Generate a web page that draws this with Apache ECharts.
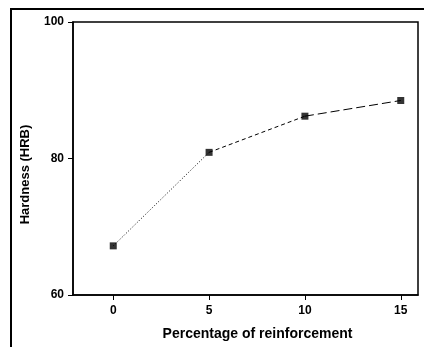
<!DOCTYPE html>
<html>
<head>
<meta charset="utf-8">
<script src="https://cdn.jsdelivr.net/npm/echarts@6/dist/echarts.min.js"></script>
<style>
  html, body { margin: 0; padding: 0; background: #fff; }
  #chart { width: 424px; height: 347px; }
</style>
</head>
<body>
<div id="chart"></div>
<script>
// reinforcement percentages and measured hardness
var reinforcement = [0, 5, 10, 15];
var hardness = [67.2, 80.9, 86.2, 88.5];
var xTicks = [0, 5, 10, 15];
var yTicks = [60, 80, 100];
// each segment has its own dash style in the original
var segmentDash = [[1, 2], [4, 3], [9, 4]];

var chart = echarts.init(document.getElementById('chart'));

var series = [];
for (var i = 0; i < reinforcement.length - 1; i++) {
  series.push({
    type: 'line',
    data: [[reinforcement[i], hardness[i]], [reinforcement[i + 1], hardness[i + 1]]],
    showSymbol: false,
    lineStyle: { color: '#000', width: 1, type: segmentDash[i] },
    silent: true
  });
}
series.push({
  type: 'scatter',
  data: reinforcement.map(function(x, i) { return [x, hardness[i]]; }),
  symbol: 'rect',
  symbolSize: 7,
  itemStyle: { color: '#000' }
});

var labelFont = { color: '#000', fontFamily: 'Liberation Sans', fontWeight: 'bold', fontSize: 12 };

chart.setOption({
  animation: false,
  backgroundColor: '#fff',
  grid: { left: 73, top: 22, right: 6, bottom: 52, show: true, borderColor: '#000', borderWidth: 1.5 },
  xAxis: {
    type: 'value',
    min: -2.1,
    max: 15.9,
    interval: 5,
    name: 'Percentage of reinforcement',
    nameLocation: 'middle',
    nameGap: 32,
    nameTextStyle: Object.assign({}, labelFont, { fontSize: 14, padding: [0, 0, 0, 24] }),
    axisLine: { show: true, onZero: false, lineStyle: { color: '#000', width: 1.5 } },
    axisTick: { show: true, length: 5, lineStyle: { color: '#000' }, customValues: xTicks },
    axisLabel: Object.assign({}, labelFont, { margin: 10, customValues: xTicks }),
    splitLine: { show: false }
  },
  yAxis: {
    type: 'value',
    min: 60,
    max: 100,
    interval: 20,
    name: 'Hardness (HRB)',
    nameLocation: 'middle',
    nameGap: 41,
    nameTextStyle: Object.assign({}, labelFont, { fontSize: 13, padding: [0, 32, 0, 0] }),
    axisLine: { show: true, onZero: false, lineStyle: { color: '#000', width: 1.5 } },
    axisTick: { show: true, length: 5, lineStyle: { color: '#000' }, customValues: yTicks },
    axisLabel: Object.assign({}, labelFont, { margin: 9, customValues: yTicks }),
    splitLine: { show: false }
  },
  graphic: [{
    type: 'polyline',
    shape: { points: [[11, 347], [11, 9], [424, 9]] },
    style: { stroke: '#000', lineWidth: 2, fill: null },
    silent: true
  }],
  series: series
});
</script>
</body>
</html>
